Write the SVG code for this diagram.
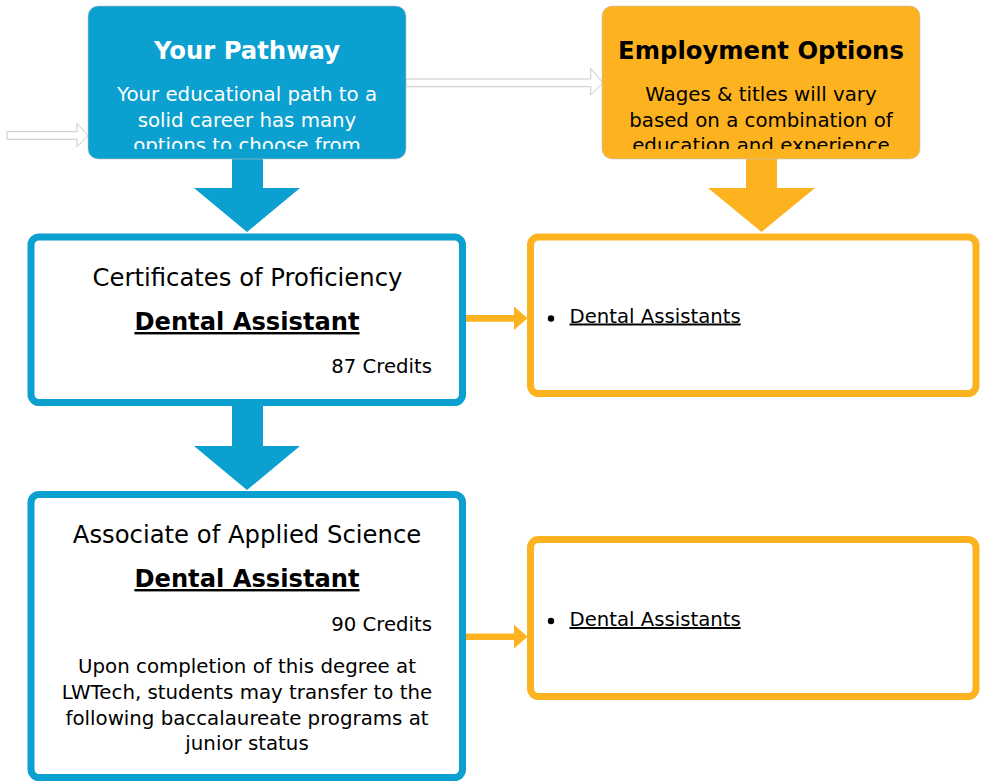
<svg xmlns="http://www.w3.org/2000/svg" width="985" height="781" viewBox="0 0 985 781">
<defs>
<style>
text{font-family:"DejaVu Sans","Liberation Sans",sans-serif;}
.head{fill:#0ba0cf;stroke:#c4c4c4;stroke-width:0.6;}
.headO{fill:#fdb31f;stroke:#c4c4c4;stroke-width:0.6;}
.boxB{fill:#fff;stroke:#0ba0cf;stroke-width:7;}
.boxO{fill:#fff;stroke:#fdb31f;stroke-width:7;}
.ttl{font-size:24.3px;font-weight:bold;text-anchor:middle;}
.sub{font-size:24.3px;text-anchor:middle;fill:#000;}
.body{font-size:19.8px;text-anchor:middle;}
.cred{font-size:19.7px;text-anchor:end;fill:#000;}
.link{font-size:24.2px;font-weight:bold;text-anchor:middle;text-decoration:underline;fill:#000;}
.li{font-size:19.7px;text-decoration:underline;fill:#000;}
.hollow{fill:#fff;stroke:#c8c8c8;stroke-width:1;}
</style>
<clipPath id="clipL"><rect x="88" y="6" width="318" height="143"/></clipPath>
<clipPath id="clipR"><rect x="602" y="6" width="318" height="143"/></clipPath>
</defs>

<g id="connectors">
<polygon class="hollow" points="7,131.7 77,131.7 77,123.3 88,135.5 77,146.7 77,139.3 7,139.3"/>
<polygon class="hollow" points="406,79 590.7,79 590.7,68.3 603,82.8 590.7,95 590.7,86.7 406,86.7"/>
<polygon fill="#0ba0cf" points="232,158 263,158 263,188 300,188 247,232 194,188 232,188"/>
<polygon fill="#0ba0cf" points="232,404 263,404 263,446 300,446 247,490 194,446 232,446"/>
<polygon fill="#fdb31f" points="746,158 777,158 777,188 815,188 761.5,232 708,188 746,188"/>
<polygon fill="#fdb31f" points="466,315 514,315 514,306.5 527.5,318.3 514,330 514,321.7 466,321.7"/>
<polygon fill="#fdb31f" points="466,633.4 514,633.4 514,624.5 527.5,636.7 514,648.5 514,640 466,640"/>
</g>

<g id="your-pathway">
<rect class="head" x="88" y="6" width="318" height="153" rx="10"/>
<g clip-path="url(#clipL)" fill="#fff">
<text class="ttl" x="247" y="59">Your Pathway</text>
<text class="body" x="247" y="101">Your educational path to a</text>
<text class="body" x="247" y="127">solid career has many</text>
<text class="body" x="247" y="152">options to choose from</text>
</g>
</g>

<g id="employment-options">
<rect class="headO" x="602" y="6" width="318" height="153" rx="10"/>
<g clip-path="url(#clipR)" fill="#000">
<text class="ttl" x="761" y="59">Employment Options</text>
<text class="body" x="761" y="101">Wages &amp; titles will vary</text>
<text class="body" x="761" y="127">based on a combination of</text>
<text class="body" x="761" y="152">education and experience</text>
</g>
</g>

<g id="certificates">
<rect class="boxB" x="31" y="237" width="431.5" height="165.5" rx="8"/>
<text class="sub" x="247.5" y="286">Certificates of Proficiency</text>
<text class="link" x="247" y="330">Dental Assistant</text>
<text class="cred" x="432" y="372.5">87 Credits</text>
</g>

<g id="associate">
<rect class="boxB" x="31" y="494.5" width="431.5" height="283" rx="8"/>
<text class="sub" x="247" y="542.5">Associate of Applied Science</text>
<text class="link" x="247" y="587">Dental Assistant</text>
<text class="cred" x="432" y="630.5">90 Credits</text>
<text class="body" x="247" y="673" fill="#000">Upon completion of this degree at</text>
<text class="body" x="247" y="699" fill="#000">LWTech, students may transfer to the</text>
<text class="body" x="247" y="724.5" fill="#000">following baccalaureate programs at</text>
<text class="body" x="247" y="750" fill="#000">junior status</text>
</g>

<g id="jobs-1">
<rect class="boxO" x="530.5" y="237" width="445.5" height="156.5" rx="8"/>
<circle cx="551" cy="318.5" r="3.2" fill="#000"/>
<text class="li" x="569.5" y="322.5">Dental Assistants</text>
</g>

<g id="jobs-2">
<rect class="boxO" x="530.5" y="539.5" width="445.5" height="157" rx="8"/>
<circle cx="551" cy="621" r="3.2" fill="#000"/>
<text class="li" x="569.5" y="626">Dental Assistants</text>
</g>
</svg>
